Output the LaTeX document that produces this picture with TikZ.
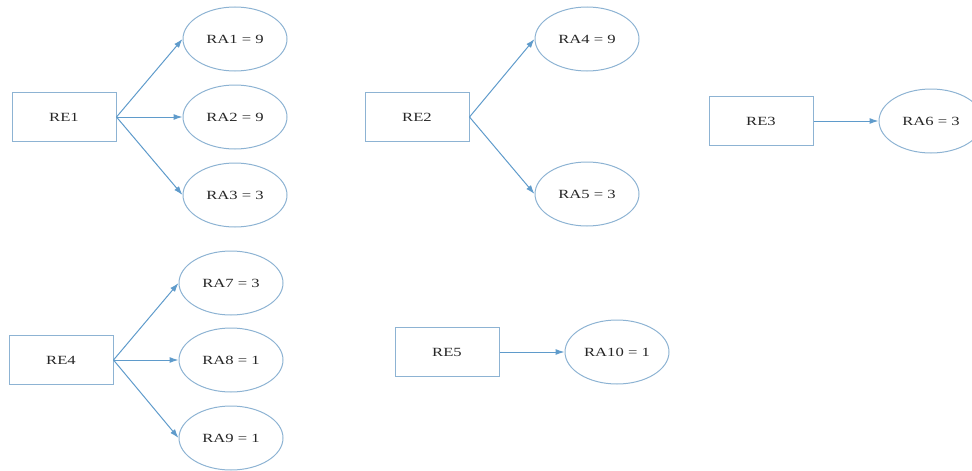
\documentclass[tikz,border=0pt]{standalone}
\usepackage{fontspec}
\setmainfont{Liberation Serif}[FakeStretch=1.33]
\usepackage{tikz}
\usetikzlibrary{arrows.meta, positioning, shapes.geometric}
\definecolor{shapeline}{HTML}{8DB3D3}
\definecolor{edgeline}{HTML}{5F9BCB}

\begin{document}
\begin{tikzpicture}[x=1pt, y=-1pt,
    every node/.style={font=\fontsize{12.5}{15}\selectfont, text=black!85},
    rebox/.style={draw=shapeline, line width=1pt, minimum width=104pt, minimum height=49pt, inner sep=0pt},
    raell/.style={ellipse, draw=shapeline, line width=1pt, minimum width=104pt, minimum height=64pt, inner sep=0pt},
    link/.style={draw=edgeline, line width=1pt, -{Latex[length=9pt, width=6pt]}}]

\useasboundingbox (0,0) rectangle (972,471);

% Group 1
\node[rebox] (re1) at (64,117) {RE1};
\node[raell] (ra1) at (235,39) {RA1 = 9};
\node[raell] (ra2) at (235,117) {RA2 = 9};
\node[raell] (ra3) at (235,195) {RA3 = 3};
\draw[link] (re1.east) -- (ra1.west);
\draw[link] (re1.east) -- (ra2.west);
\draw[link] (re1.east) -- (ra3.west);

% Group 2
\node[rebox] (re2) at (417,117) {RE2};
\node[raell] (ra4) at (587,39) {RA4 = 9};
\node[raell] (ra5) at (587,194) {RA5 = 3};
\draw[link] (re2.east) -- (ra4.west);
\draw[link] (re2.east) -- (ra5.west);

% Group 3
\node[rebox] (re3) at (761,121) {RE3};
\node[raell] (ra6) at (931,121) {RA6 = 3};
\draw[link] (re3.east) -- (ra6.west);

% Group 4
\node[rebox] (re4) at (61,360) {RE4};
\node[raell] (ra7) at (231,283) {RA7 = 3};
\node[raell] (ra8) at (231,360) {RA8 = 1};
\node[raell] (ra9) at (231,438) {RA9 = 1};
\draw[link] (re4.east) -- (ra7.west);
\draw[link] (re4.east) -- (ra8.west);
\draw[link] (re4.east) -- (ra9.west);

% Group 5
\node[rebox] (re5) at (447,352) {RE5};
\node[raell] (ra10) at (617,352) {RA10 = 1};
\draw[link] (re5.east) -- (ra10.west);

\end{tikzpicture}
\end{document}
